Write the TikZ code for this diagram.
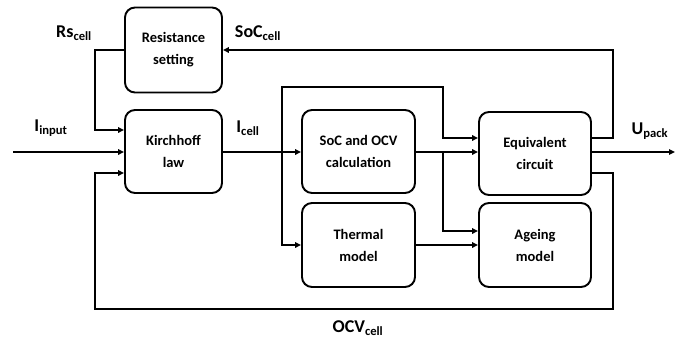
\documentclass[tikz,border=0pt]{standalone}
\usepackage{fontspec}
\setmainfont{Carlito}
\usetikzlibrary{arrows.meta, positioning, calc}

\begin{document}
\begin{tikzpicture}[
  x=1pt, y=-1pt,
  block/.style={draw, line width=1.9pt, rounded corners=10pt,
                align=center, font=\fontsize{14.5}{22}\selectfont\bfseries,
                inner sep=0pt},
  link/.style={line width=1.5pt, -{Triangle[length=6pt, width=5.5pt]}},
  sig/.style={font=\fontsize{18}{20}\selectfont\bfseries}
]
  \useasboundingbox (0,0) rectangle (683,343);

  % blocks
  \node[block, minimum width=97pt, minimum height=85pt] (res) at (173.5, 50)
    {Resistance\\setting};
  \node[block, minimum width=97pt, minimum height=83pt] (kir) at (173.5, 151.5)
    {Kirchhoff\\law};
  \node[block, minimum width=113pt, minimum height=83pt] (soc) at (358.5, 151.5)
    {SoC and OCV\\calculation};
  \node[block, minimum width=113pt, minimum height=84pt] (thm) at (358.5, 245)
    {Thermal\\model};
  \node[block, minimum width=112pt, minimum height=83pt] (eqc) at (535, 153.5)
    {Equivalent\\circuit};
  \node[block, minimum width=112pt, minimum height=84pt] (age) at (535, 245)
    {Ageing\\model};

  % free ends and branch points
  \coordinate (inp) at (13, 152);
  \coordinate (out) at (675, 152);
  \coordinate (j1) at (282, 152);
  \coordinate (j2) at (443, 152);

  % signal labels
  \node[sig] (rsl)  at (74, 33)   {Rs\textsubscript{cell}};
  \node[sig] (socl) at (258, 33)  {SoC\textsubscript{cell}};
  \node[sig] (inl)  at (51, 128)  {I\textsubscript{input}};
  \node[sig] (icl)  at (248, 128) {I\textsubscript{cell}};
  \node[sig] (upl)  at (650, 131) {U\textsubscript{pack}};
  \node[sig] (ocvl) at (358, 328) {OCV\textsubscript{cell}};

  % connections
  \draw[link] (eqc.east |- 0,138) -| (613,50) -- (res.east);
  \draw[link] (res.west) -| (95,130) -- (kir.west |- 0,130);
  \draw[link] (inp) -- (kir.west |- inp);
  \draw[link] (eqc.east |- 0,173) -| (613,309) -| (95,173) -- (kir.west |- 0,173);
  \draw[link] (kir.east |- j1) -- (soc.west |- j1);
  \draw[link] (j1) |- (443,87) |- (eqc.west |- 0,138);
  \draw[link] (j1) |- (thm.west |- 0,245);
  \draw[link] (soc.east |- j2) -- (eqc.west |- j2);
  \draw[link] (j2) |- (age.west |- 0,231);
  \draw[link] (thm.east |- 0,245) -- (age.west |- 0,245);
  \draw[link] (eqc.east |- out) -- (out);
\end{tikzpicture}
\end{document}
